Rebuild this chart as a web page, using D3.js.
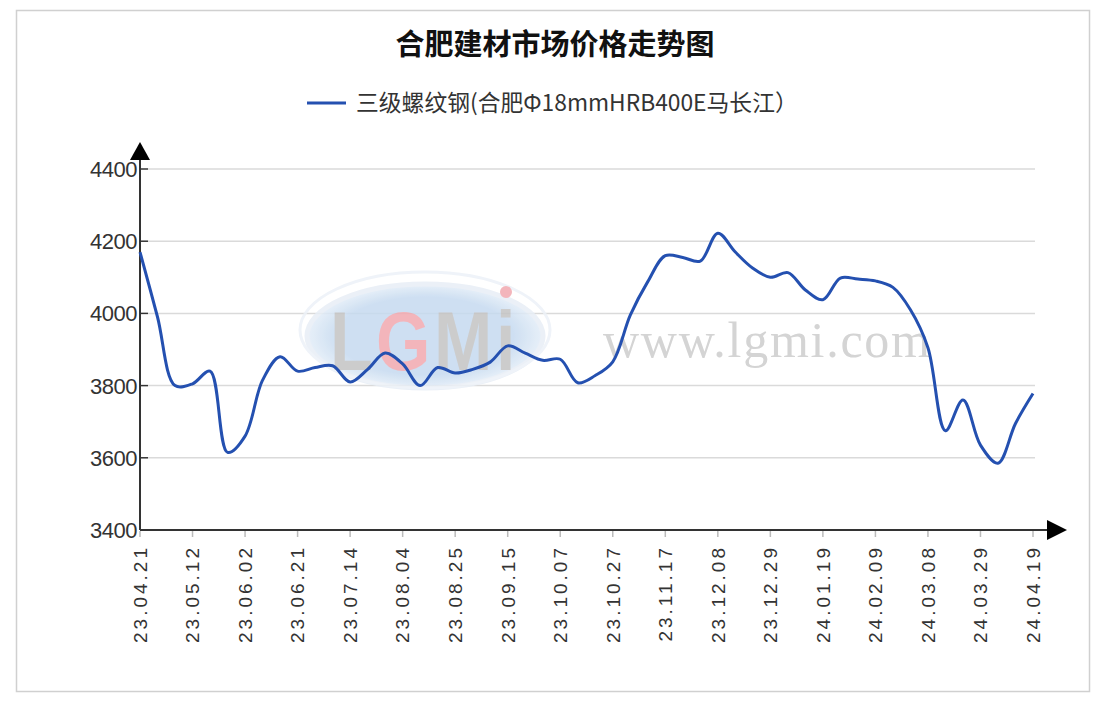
<!DOCTYPE html>
<html>
<head>
<meta charset="utf-8">
<script src="https://cdn.jsdelivr.net/npm/d3@7"></script>
<style>
html,body{margin:0;padding:0;background:#fff;}
svg{display:block;font-family:"Liberation Sans",Arial,sans-serif;}
</style>
</head>
<body>
<svg id="chart" width="1108" height="709"></svg>
<script>
const title = "合肥建材市场价格走势图";
const seriesName = "三级螺纹钢(合肥Φ18mmHRB400E马长江）";
const tickLabels = ["23.04.21","23.05.12","23.06.02","23.06.21","23.07.14","23.08.04","23.08.25","23.09.15","23.10.07","23.10.27","23.11.17","23.12.08","23.12.29","24.01.19","24.02.09","24.03.08","24.03.29","24.04.19"];
const values = [4170,3990,3800,3805,3840,3615,3660,3815,3880,3840,3850,3855,3810,3845,3890,3860,3800,3850,
                3835,3845,3865,3910,3890,3870,3873,3808,3828,3866,3995,4088,4160,4155,4145,4222,4170,
                4125,4100,4113,4065,4038,4098,4095,4090,4072,4010,3905,3675,3760,3635,3585,3695,3778];
const yTicks = [3400,3600,3800,4000,4200,4400];
const logoLetters = ["L","G","M","i"];

const svg = d3.select("#chart");
const pL = 140, pR = 1033, pT = 169, pB = 530;

const x = d3.scaleLinear().domain([0, values.length - 1]).range([pL, pR]);
const y = d3.scaleLinear().domain([3400, 4400]).range([pB, pT]);

// frame
svg.append("rect").attr("x",16.5).attr("y",10.5).attr("width",1073).attr("height",681)
  .attr("fill","#fff").attr("stroke","#d0d0d0").attr("stroke-width",1.5);

// gridlines
svg.append("g").selectAll("line").data(yTicks.filter(d=>d>3400)).join("line")
  .attr("x1", pL+8).attr("x2", pR+2)
  .attr("y1", d=>y(d)).attr("y2", d=>y(d))
  .attr("stroke","#dadada").attr("stroke-width",1.5);

// watermark
const wm = svg.append("g").attr("opacity",0.85);
const grad = svg.append("defs").append("radialGradient").attr("id","eg").attr("cx","50%").attr("cy","50%").attr("r","50%");
grad.append("stop").attr("offset","0%").attr("stop-color","#c6daf0");
grad.append("stop").attr("offset","75%").attr("stop-color","#c6daf0");
grad.append("stop").attr("offset","100%").attr("stop-color","#e4eef8");
wm.append("ellipse").attr("cx",425).attr("cy",336).attr("rx",118).attr("ry",52)
  .attr("fill","url(#eg)").attr("stroke","#e8eef6").attr("stroke-width",5);
wm.append("ellipse").attr("cx",425).attr("cy",330).attr("rx",125).attr("ry",58)
  .attr("fill","none").attr("stroke","#edf2f8").attr("stroke-width",3);
const logoX = [330, 376, 434, 496];
const logoC = ["#c4c4c4","#f2a9b0","#c4c4c4","#c4c4c4"];
wm.selectAll("text.logo").data(logoLetters).join("text").attr("class","logo")
  .attr("transform",(d,i)=>`translate(${logoX[i]},370) scale(1,1.2)`)
  .attr("font-size",70).attr("font-weight","bold").attr("fill",(d,i)=>logoC[i])
  .text(d=>d);
wm.append("circle").attr("cx",506).attr("cy",292).attr("r",6).attr("fill","#f2a9b0");
svg.append("text").attr("x",603).attr("y",357).attr("font-size",50)
  .attr("font-family","Liberation Serif, 'DejaVu Serif', serif")
  .attr("fill","#d4d4d4").attr("textLength",327).text("www.lgmi.com");

// axes
const axG = svg.append("g");
axG.append("line").attr("x1",pL).attr("x2",pL).attr("y1",pB).attr("y2",158)
  .attr("stroke","#333").attr("stroke-width",2);
axG.append("path").attr("d",`M${pL-10},160 L${pL+10},160 L${pL},142 Z`).attr("fill","#000");
axG.append("line").attr("x1",pL).attr("x2",1050).attr("y1",pB).attr("y2",pB)
  .attr("stroke","#333").attr("stroke-width",2);
axG.append("path").attr("d",`M1047,520 L1047,540 L1067,530 Z`).attr("fill","#000");

// y ticks & labels
const yg = svg.append("g");
yg.selectAll("line").data(yTicks).join("line")
  .attr("x1",pL).attr("x2",pL+8).attr("y1",d=>y(d)).attr("y2",d=>y(d))
  .attr("stroke","#333").attr("stroke-width",1.5);
yg.selectAll("text").data(yTicks).join("text")
  .attr("x",pL-3).attr("y",d=>y(d)).attr("dy","0.36em")
  .attr("text-anchor","end").attr("font-size",22).attr("fill","#333")
  .attr("letter-spacing",-0.5)
  .text(d=>d);

// x ticks & labels
const xIdx = tickLabels.map((d,i)=>i*3);
const xg = svg.append("g");
xg.selectAll("line").data(xIdx).join("line")
  .attr("x1",d=>x(d)).attr("x2",d=>x(d)).attr("y1",pB+1).attr("y2",pB+7)
  .attr("stroke","#bbb").attr("stroke-width",1.5);
xg.selectAll("text").data(tickLabels).join("text")
  .attr("transform",(d,i)=>`translate(${x(xIdx[i])},${pB+15}) rotate(-90)`)
  .attr("text-anchor","end").attr("dy","0.36em")
  .attr("font-size",19).attr("fill","#333").attr("letter-spacing",3)
  .text(d=>d);

// line
const line = d3.line().x((d,i)=>x(i)).y(d=>y(d)).curve(d3.curveCatmullRom.alpha(0.5));
svg.append("path").datum(values).attr("d",line)
  .attr("fill","none").attr("stroke","#2450b0").attr("stroke-width",3)
  .attr("stroke-linejoin","round");

// title
svg.append("text").attr("x",555).attr("y",55).attr("text-anchor","middle")
  .attr("font-size",29).attr("font-weight","bold").attr("fill","#111")
  .attr("font-family","'Noto Sans CJK SC', sans-serif").text(title);

// legend
svg.append("line").attr("x1",307).attr("x2",346).attr("y1",103).attr("y2",103)
  .attr("stroke","#2450b0").attr("stroke-width",3);
svg.append("text").attr("x",356).attr("y",111).attr("font-size",22.8).attr("fill","#333")
  .attr("font-family","'Noto Sans CJK SC', sans-serif").text(seriesName);
</script>
</body>
</html>
